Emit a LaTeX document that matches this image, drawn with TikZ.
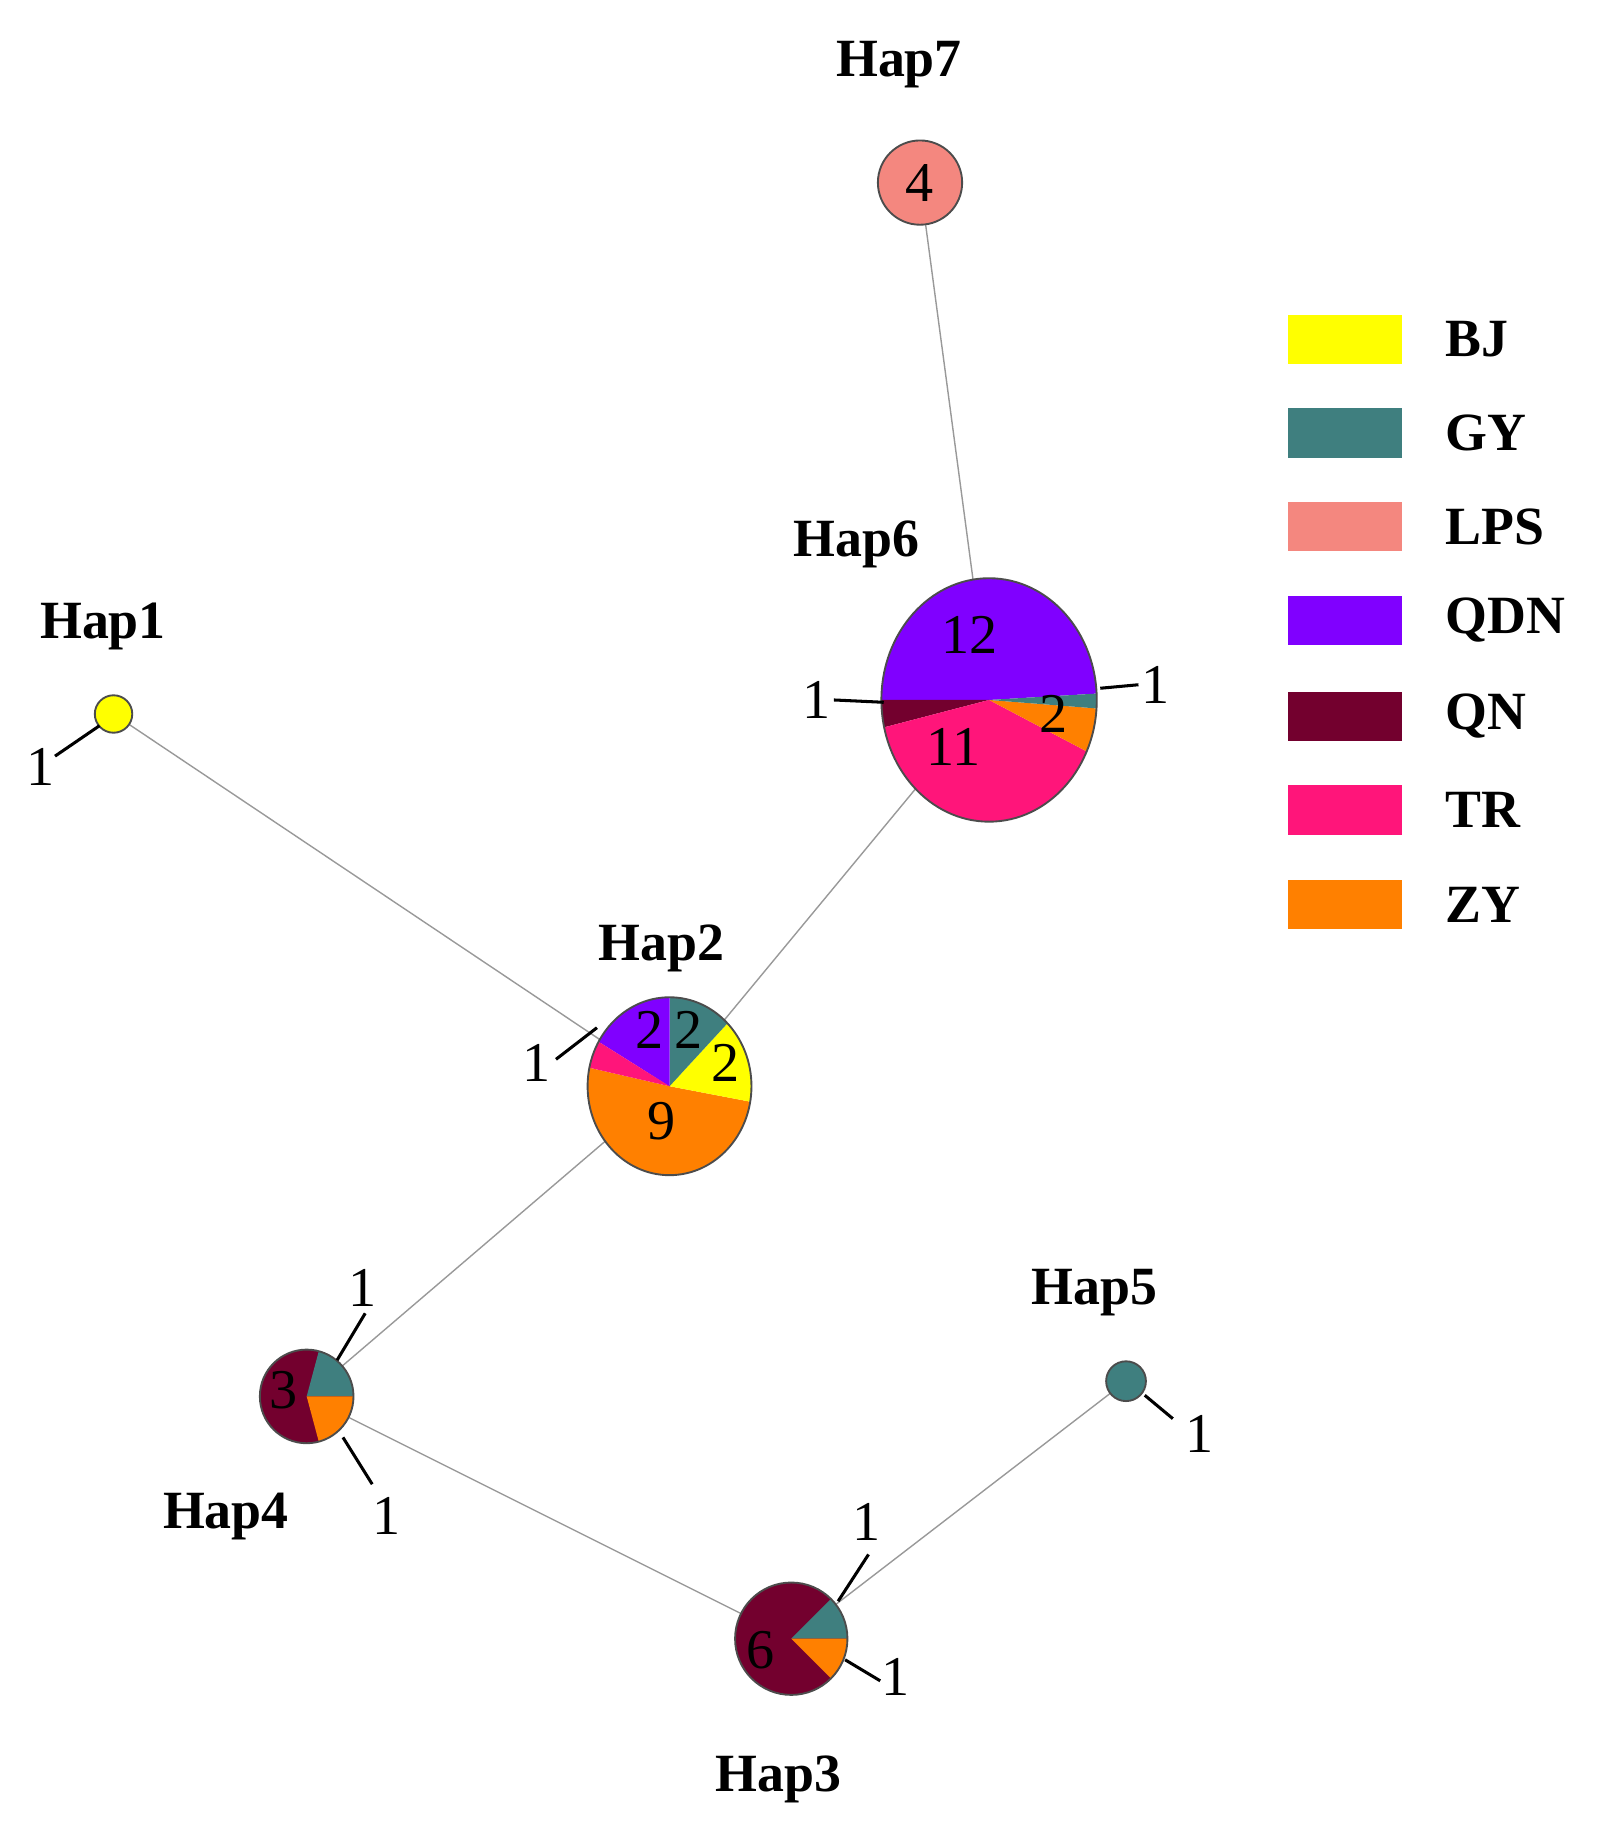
\documentclass[tikz,border=0pt]{standalone}
\usepackage{fontspec}
\setmainfont{Liberation Serif}
\definecolor{cBJ}{HTML}{FFFF00}
\definecolor{cGY}{HTML}{3F7F7F}
\definecolor{cLPS}{HTML}{F4877F}
\definecolor{cQDN}{HTML}{8000FF}
\definecolor{cQN}{HTML}{73002E}
\definecolor{cTR}{HTML}{FF157A}
\definecolor{cZY}{HTML}{FF8000}
\newcommand\myslice[6]{\fill[#6] (#1) -- ++(-#4:#2 and #3) arc[start angle=-#4,end angle=-#5,x radius=#2,y radius=#3] -- cycle;}
\begin{document}
\begin{tikzpicture}[x=0.5pt,y=-0.5pt,
  hap/.style={font=\bfseries\fontsize{23}{25}\selectfont},
  num/.style={font=\fontsize{24}{26}\selectfont,inner sep=1pt},
  edge/.style={draw=gray!80,line width=0.6pt},
  tick/.style={draw=black,line width=1.3pt},
  rim/.style={draw=black!70,line width=0.8pt},
  leg/.style={font=\bfseries\fontsize{23}{25}\selectfont,anchor=west}]
\useasboundingbox (0,0) rectangle (1380,1566);
\coordinate (h1) at (97,610);
\coordinate (h2) at (572,928);
\coordinate (h3) at (676,1400);
\coordinate (h4) at (262,1193);
\coordinate (h5) at (962,1180);
\coordinate (h6) at (845,598);
\coordinate (h7) at (786,156);
\draw[edge] (h7)--(h6) (h1)--(h2) (h6)--(h2) (h2)--(h4) (h4)--(h3) (h3)--(h5);
% Hap7
\fill[cLPS,rim] (h7) circle[radius=36];
\node[num] (n7) at (h7) {4};
\node[hap] (l7) at (768,55) {Hap7};
% Hap6
\myslice{h6}{92}{104}{3}{180}{cQDN}
\myslice{h6}{92}{104}{180}{193}{cQN}
\myslice{h6}{92}{104}{193}{335}{cTR}
\myslice{h6}{92}{104}{335}{356}{cZY}
\myslice{h6}{92}{104}{356}{363}{cGY}
\draw[rim] (h6) ellipse[x radius=92,y radius=104];
\node[num] (n6a) at (828,542) {12};
\node[num] (n6b) at (815,638) {11};
\node[num] (n6c) at (900,610) {2};
\node[num] (n6d) at (698,598) {1};
\node[num] (n6e) at (987,585) {1};
\draw[tick] (n6d.east)--(755,600) (940,588)--(n6e.west);
\node[hap] (l6) at (732,465) {Hap6};
% Hap1
\fill[cBJ,rim] (h1) circle[radius=16];
\node[num] (n1) at (35,655) {1};
\draw[tick] (47,646)--(85,620);
\node[hap] (l1) at (88,535) {Hap1};
% Hap2
\myslice{h2}{70}{76}{168}{350}{cZY}
\myslice{h2}{70}{76}{350}{405}{cBJ}
\myslice{h2}{70}{76}{45}{90}{cGY}
\myslice{h2}{70}{76}{90}{150}{cQDN}
\myslice{h2}{70}{76}{150}{168}{cTR}
\draw[rim] (h2) ellipse[x radius=70,y radius=76];
\node[num] (n2a) at (555,880) {2};
\node[num] (n2b) at (588,880) {2};
\node[num] (n2c) at (620,908) {2};
\node[num] (n2d) at (565,958) {9};
\node[num] (n2e) at (458,908) {1};
\draw[tick] (475,905)--(510,878);
\node[hap] (l2) at (565,810) {Hap2};
% Hap4
\fill[cQN] (h4) circle[radius=40];
\myslice{h4}{40}{40}{0}{75}{cGY}
\myslice{h4}{40}{40}{-75}{0}{cZY}
\draw[rim] (h4) circle[radius=40];
\node[num] (n4a) at (242,1188) {3};
\node[num] (n4b) at (310,1100) {1};
\node[num] (n4c) at (330,1295) {1};
\draw[tick] (288,1162)--(312,1122) (293,1228)--(318,1268);
\node[hap] (l4) at (193,1296) {Hap4};
% Hap5
\fill[cGY,rim] (h5) circle[radius=17];
\node[num] (n5) at (1025,1225) {1};
\draw[tick] (978,1192)--(1002,1212);
\node[hap] (l5) at (935,1104) {Hap5};
% Hap3
\fill[cQN] (h3) circle[radius=48];
\myslice{h3}{48}{48}{0}{45}{cGY}
\myslice{h3}{48}{48}{-45}{0}{cZY}
\draw[rim] (h3) circle[radius=48];
\node[num] (n3a) at (650,1410) {6};
\node[num] (n3b) at (740,1300) {1};
\node[num] (n3c) at (765,1433) {1};
\draw[tick] (716,1368)--(742,1328) (722,1418)--(752,1436);
\node[hap] (l3) at (665,1520) {Hap3};
% legend
\foreach \c/\t/\y in {cBJ/BJ/290,cGY/GY/370,cLPS/LPS/450,cQDN/QDN/530,cQN/QN/612,cTR/TR/692,cZY/ZY/773}{
  \fill[\c] (1100,\y-21) rectangle (1198,\y+21);
  \node[leg] at (1228,\y) {\t};
}
\end{tikzpicture}
\end{document}
